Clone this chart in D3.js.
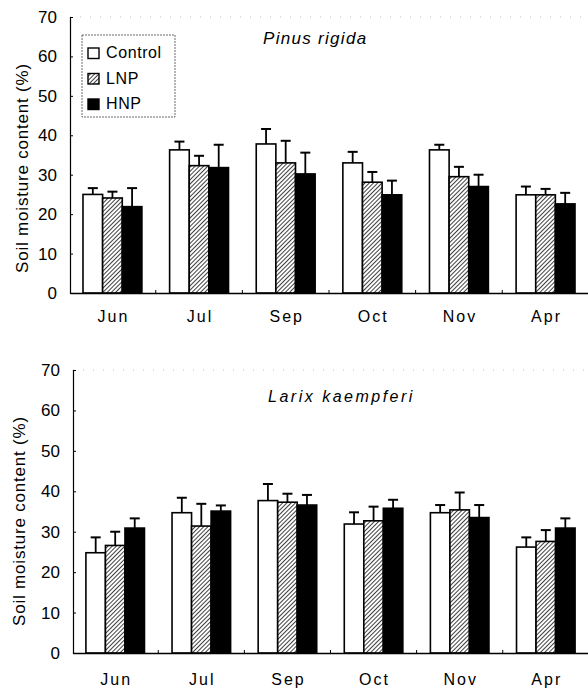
<!DOCTYPE html>
<html>
<head>
<meta charset="utf-8">
<script src="https://cdn.jsdelivr.net/npm/d3@7"></script>
<style>
  body { margin: 0; background: #fff; }
  text { font-family: "Liberation Sans", Arial, sans-serif; fill: #000; }
</style>
</head>
<body>
<div id="chart"></div>
<script>
// data
const months = ["Jun", "Jul", "Sep", "Oct", "Nov", "Apr"];
const treatments = ["Control", "LNP", "HNP"];

// Pinus rigida
const pinusMean = {
  Control: [25.0, 36.3, 37.8, 33.0, 36.3, 24.9],
  LNP:     [24.1, 32.3, 33.0, 28.1, 29.5, 24.9],
  HNP:     [21.9, 31.8, 30.2, 24.9, 27.0, 22.6]
};
const pinusErr = {
  Control: [1.6, 2.1, 3.8, 2.8, 1.3, 2.1],
  LNP:     [1.6, 2.5, 5.6, 2.6, 2.5, 1.5],
  HNP:     [4.7, 5.8, 5.4, 3.6, 3.0, 2.8]
};

// Larix kaempferi
const larixMean = {
  Control: [24.8, 34.7, 37.7, 31.9, 34.7, 26.2],
  LNP:     [26.6, 31.4, 37.3, 32.7, 35.4, 27.6],
  HNP:     [30.9, 35.1, 36.6, 35.8, 33.5, 30.9]
};
const larixErr = {
  Control: [3.8, 3.7, 4.1, 2.9, 1.9, 2.4],
  LNP:     [3.4, 5.5, 2.1, 3.5, 4.3, 2.8],
  HNP:     [2.4, 1.4, 2.5, 2.1, 3.1, 2.4]
};

const yTicks = [0, 10, 20, 30, 40, 50, 60, 70];

const width = 588, height = 690;

const svg = d3.select("#chart").append("svg")
  .attr("width", width)
  .attr("height", height);

// hatch pattern for LNP
const defs = svg.append("defs");
const pat = defs.append("pattern")
  .attr("id", "hatch")
  .attr("patternUnits", "userSpaceOnUse")
  .attr("width", 3).attr("height", 3)
  .attr("patternTransform", "rotate(45)");
pat.append("rect").attr("width", 3).attr("height", 3).attr("fill", "#fff");
pat.append("line")
  .attr("x1", 0).attr("y1", 0).attr("x2", 0).attr("y2", 3)
  .attr("stroke", "#000").attr("stroke-width", 1.5);

const fills = { Control: "#fff", LNP: "url(#hatch)", HNP: "#000" };

function panel(opts) {
  const { left, right, top, bottom, mean, err, title, titleX, titleY, labelX, labelY, legend } = opts;

  const x = d3.scaleBand().domain(months).range([left, right])
    .paddingInner(0.32).paddingOuter(0.15);
  const xs = d3.scaleBand().domain(treatments).range([0, x.bandwidth()]);
  const y = d3.scaleLinear().domain([0, 70]).range([bottom, top]);

  const g = svg.append("g");

  // faint dotted top frame (scan remnant)
  g.append("line")
    .attr("x1", left).attr("x2", right)
    .attr("y1", top).attr("y2", top)
    .attr("stroke", "#bbb").attr("stroke-width", 1)
    .attr("stroke-dasharray", "1,9");

  // bars
  treatments.forEach(t => {
    g.selectAll(null)
      .data(months)
      .join("rect")
      .attr("x", (d) => x(d) + xs(t))
      .attr("y", (d, i) => y(mean[t][i]))
      .attr("width", xs.bandwidth())
      .attr("height", (d, i) => y(0) - y(mean[t][i]))
      .attr("fill", fills[t])
      .attr("stroke", "#000")
      .attr("stroke-width", 1.6);

    // error bars (upper only)
    const eb = g.selectAll(null)
      .data(months)
      .join("g")
      .attr("transform", d => `translate(${x(d) + xs(t) + xs.bandwidth() / 2},0)`);
    eb.append("line")
      .attr("y1", (d, i) => y(mean[t][i]))
      .attr("y2", (d, i) => y(mean[t][i] + err[t][i]))
      .attr("stroke", "#000").attr("stroke-width", 1.8);
    eb.append("line")
      .attr("x1", -5).attr("x2", 5)
      .attr("y1", (d, i) => y(mean[t][i] + err[t][i]))
      .attr("y2", (d, i) => y(mean[t][i] + err[t][i]))
      .attr("stroke", "#000").attr("stroke-width", 2);
  });

  // y axis
  const yAxis = d3.axisLeft(y).tickValues(yTicks).tickSize(-3).tickPadding(13);
  const ya = g.append("g").attr("transform", `translate(${left},0)`).call(yAxis);
  ya.select(".domain").attr("stroke-width", 1.2);
  ya.selectAll("text").attr("font-size", 17).style("font-family", "Liberation Sans, Arial, sans-serif");

  // x axis
  const xAxis = d3.axisBottom(x).tickSize(0).tickPadding(opts.xPad);
  const xa = g.append("g").attr("transform", `translate(0,${bottom})`).call(xAxis);
  xa.select(".domain").attr("stroke-width", 1.4);
  xa.selectAll("text").attr("font-size", 16).style("font-family", "Liberation Sans, Arial, sans-serif")
    .attr("letter-spacing", 2).attr("dx", 1);

  // small upward ticks between groups
  g.selectAll(null)
    .data(months.slice(1))
    .join("line")
    .attr("x1", d => x(d) - x.step() * x.paddingInner() / 2)
    .attr("x2", d => x(d) - x.step() * x.paddingInner() / 2)
    .attr("y1", bottom).attr("y2", bottom - 3)
    .attr("stroke", "#000").attr("stroke-width", 1);

  // y label
  g.append("text")
    .attr("transform", `translate(${labelX},${labelY}) rotate(-90)`)
    .attr("text-anchor", "middle")
    .attr("font-size", 17)
    .attr("letter-spacing", 0.8)
    .text("Soil moisture content (%)");

  // title
  g.append("text")
    .attr("x", titleX).attr("y", titleY)
    .attr("font-size", opts.titleSize)
    .attr("font-style", "italic")
    .attr("letter-spacing", opts.titleSpacing)
    .text(title);

  if (legend) {
    const lg = g.append("g").attr("transform", "translate(82,35)");
    lg.append("rect")
      .attr("width", 93).attr("height", 82)
      .attr("fill", "none")
      .attr("stroke", "#444").attr("stroke-width", 0.8)
      .attr("stroke-dasharray", "2,1");
    treatments.forEach((t, i) => {
      const base = 23 + i * 25.5;
      lg.append("rect")
        .attr("x", 6).attr("y", base - 10)
        .attr("width", 11).attr("height", 10.5)
        .attr("fill", fills[t])
        .attr("stroke", "#000").attr("stroke-width", 1.4);
      lg.append("text")
        .attr("x", 24).attr("y", base)
        .attr("font-size", 16)
        .attr("letter-spacing", 0.6)
        .text(t);
    });
  }
}

panel({
  left: 70, right: 588, top: 17, bottom: 293,
  mean: pinusMean, err: pinusErr,
  title: "Pinus rigida", titleX: 263, titleY: 44, titleSize: 17, titleSpacing: 1.3,
  labelX: 28, labelY: 168, legend: true, xPad: 18
});

panel({
  left: 73, right: 588, top: 370, bottom: 653,
  mean: larixMean, err: larixErr,
  title: "Larix kaempferi", titleX: 268, titleY: 402, titleSize: 16, titleSpacing: 2.5,
  labelX: 25, labelY: 521, legend: false, xPad: 21
});
</script>
</body>
</html>
